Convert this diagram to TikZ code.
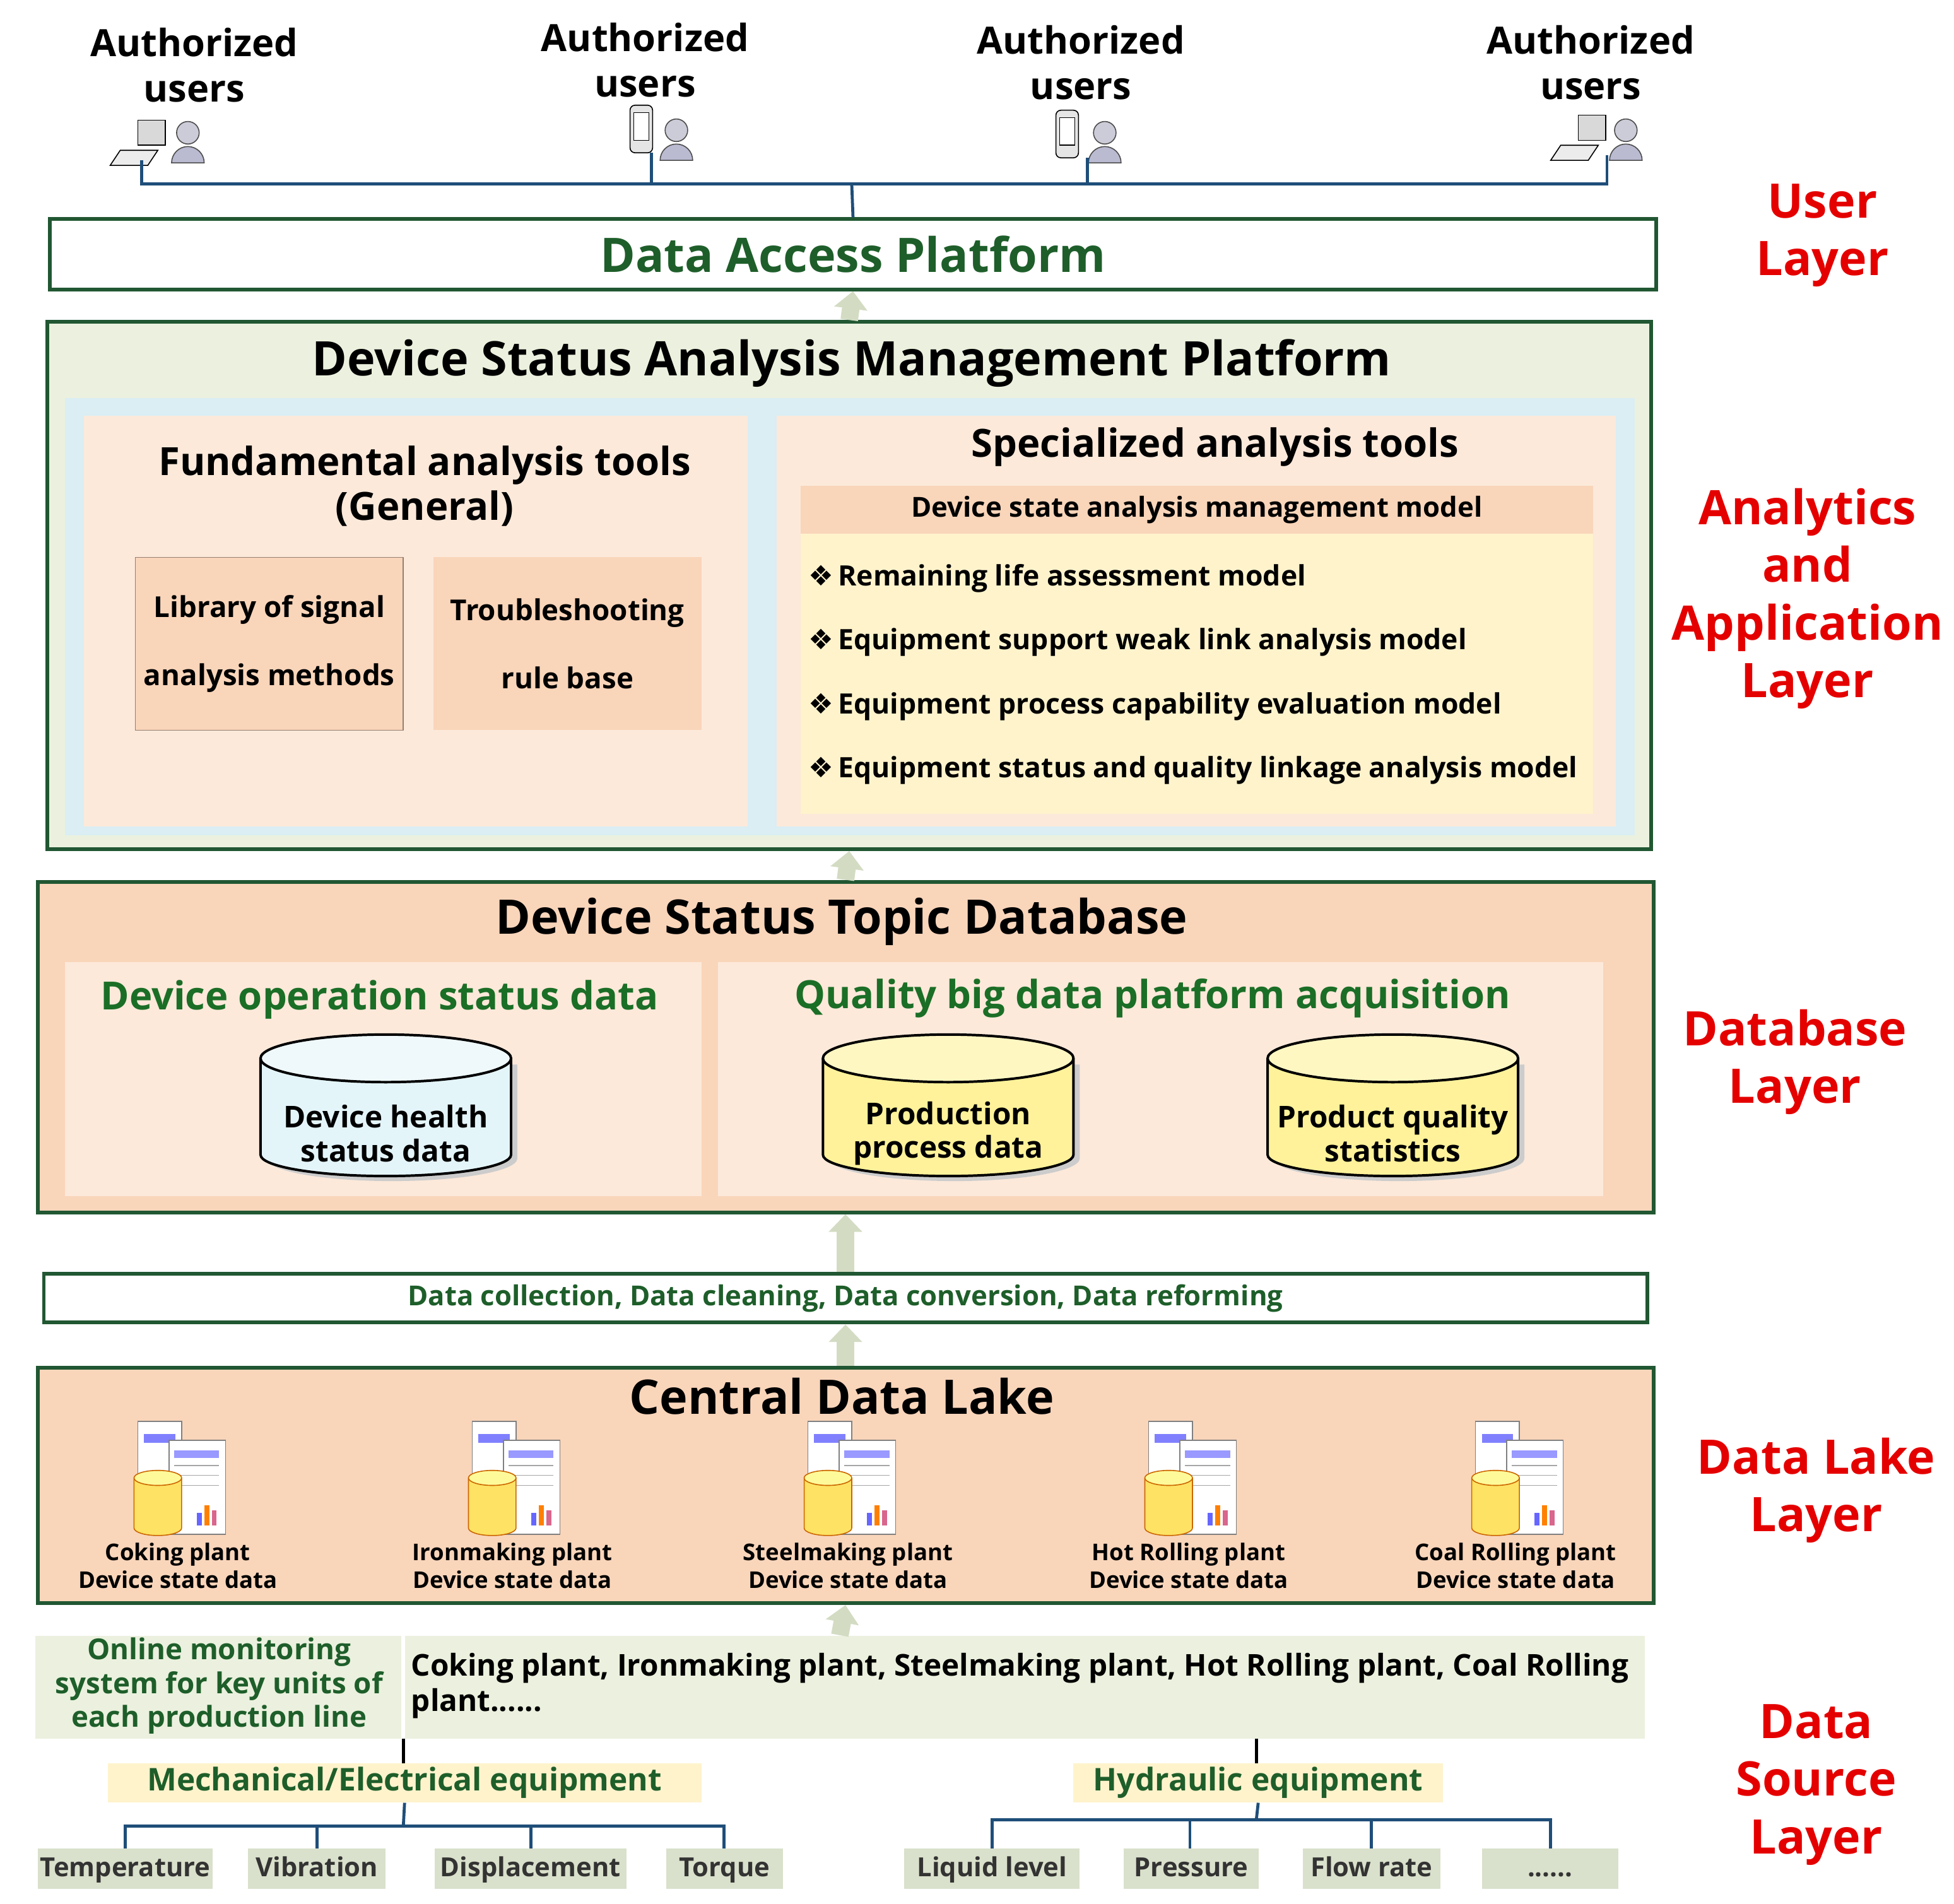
\documentclass[tikz,border=0pt]{standalone}
\usepackage{fontspec}
\setmainfont{Open Sans}
\newfontfamily\symf{DejaVu Sans}
\usetikzlibrary{arrows.meta}
\definecolor{dg}{HTML}{1E5E2A}
\definecolor{bdr}{HTML}{215732}
\definecolor{lgreen}{HTML}{EBF1DE}
\definecolor{lblue}{HTML}{DAEEF3}
\definecolor{peach}{HTML}{F9D5BA}
\definecolor{lpeach}{HTML}{FCE9DA}
\definecolor{lyel}{HTML}{FFF3CC}
\definecolor{item}{HTML}{D9E0CB}
\definecolor{navy}{HTML}{1F4E79}
\definecolor{arr}{HTML}{D3DCC3}
\definecolor{cyl}{HTML}{FFF29A}
\definecolor{cylb}{HTML}{E4F5FA}
\tikzset{
 bx/.style={draw=bdr,line width=1.5pt,inner sep=0pt},
 pl/.style={inner sep=0pt},
 t/.style={font=\bfseries,inner sep=0pt,align=center},
 red/.style={t,text=red!90!black,font=\bfseries\fontsize{19}{23}\selectfont},
 up/.style={draw=arr,line width=7pt,-{Triangle[width=13pt,length=7pt]},shorten >=0pt},
 conn/.style={draw=navy,line width=1.2pt},
 itm/.style={pl,fill=item},
}
\newcommand\rb[6]{\node[#6,minimum width={(#4-#2)*0.5pt},minimum height={(#5-#3)*0.5pt}] (#1) at ({(#2+#4)/2},{(#3+#5)/2}) {};}
\newcommand\lakeicon[2]{%
 \begin{scope}[shift={(#1,#2)}]
 \draw[gray,fill=white] (-35,-5) rectangle (0,60);
 \fill[blue!50] (-30,5) rectangle (-5,12);
 \draw[gray,fill=white] (-10,10) rectangle (35,85);
 \fill[blue!40] (-6,18) rectangle (30,24);
 \foreach \yy in {30,38,46} \draw[gray!70] (-6,\yy) -- (30,\yy);
 \fill[blue!60] (12,68) rectangle (16,78); \fill[orange] (18,62) rectangle (22,78); \fill[purple!60] (24,66) rectangle (28,78);
 \draw[orange!80!black,fill=yellow!70!orange!60] (-38,40) -- (-38,80) arc[start angle=180,end angle=0,x radius=19,y radius=6] -- (0,40);
 \draw[orange!80!black,fill=yellow!40] (-19,40) ellipse[x radius=19,y radius=6];
 \end{scope}}
\newcommand\person[2]{\begin{scope}[shift={(#1,#2)}]
 \draw[gray!60!black,fill=blue!20!gray!45] (-13,22) arc[start angle=180,end angle=360,radius=13] -- cycle;
 \draw[gray!60!black,fill=blue!15!gray!35] (0,-2) circle[radius=9];
 \end{scope}}
\newcommand\pc[2]{\begin{scope}[shift={(#1,#2)}]
 \draw[black,fill=gray!30] (-8,-16) rectangle (14,4);
 \draw[black,fill=gray!15] (-22,8) -- (8,8) -- (0,20) -- (-30,20) -- cycle;
 \end{scope}}
\newcommand\phone[2]{\begin{scope}[shift={(#1,#2)}]
 \draw[black,fill=gray!20,rounded corners=2] (-9,-20) rectangle (9,18);
 \draw[black,fill=white] (-6,-14) rectangle (6,8);
 \end{scope}}
\begin{document}
\begin{tikzpicture}[x=0.5pt,y=-0.5pt]
\useasboundingbox (0,0) rectangle (1560,1520);
\fill[white] (0,0) rectangle (1560,1520);
% users
\foreach \n/\x/\y in {u1/155/52,u2/515/48,u3/863/50,u4/1270/50}
 \node[t,font=\bfseries\fontsize{15}{18}\selectfont] (\n) at (\x,\y) {Authorized\\users};
\pc{118}{112}\person{150}{108}
\phone{512}{104}\person{540}{106}
\phone{852}{108}\person{882}{108}
\pc{1268}{108}\person{1298}{106}
\coordinate (c1) at (113,128);\coordinate (c2) at (520,122);\coordinate (c3) at (868,126);\coordinate (c4) at (1283,124);
\coordinate (h) at (680,147);
\draw[conn] (c1) -- (113,147) -- (1283,147) -- (c4);
\draw[conn] (c2) -- (520,147); \draw[conn] (c3) -- (868,147);
% data access
\rb{dap}{40}{175}{1322}{231}{bx,fill=white}
\draw[conn] (h) -- (dap.north);
\node[t,text=dg,font=\bfseries\fontsize{19}{24}\selectfont] at (dap) {Data Access Platform};
% DSAMP
\rb{dsa}{38}{257}{1318}{678}{bx,fill=lgreen}
\draw[up] (dsa.north) -- (dap.south);
\node[t,font=\bfseries\fontsize{19}{24}\selectfont] at (680,290) {Device Status Analysis Management Platform};
\rb{inb}{52}{318}{1305}{667}{pl,fill=lblue}
\rb{lp}{67}{332}{597}{660}{pl,fill=lpeach}
\node[t,font=\bfseries\fontsize{15.5}{18}\selectfont] at (339,388) {Fundamental analysis tools\\(General)};
\rb{lib}{108}{445}{322}{583}{pl,fill=peach,draw=peach!60!black}
\rb{tro}{346}{445}{560}{583}{pl,fill=peach}
\node[t,font=\bfseries\fontsize{11.5}{27}\selectfont] at (lib) {Library of signal\\analysis methods};
\node[t,font=\bfseries\fontsize{11.5}{27}\selectfont] at (tro) {Troubleshooting\\rule base};
\rb{rp}{620}{332}{1290}{660}{pl,fill=lpeach}
\node[t,font=\bfseries\fontsize{15.5}{19}\selectfont] at (970,357) {Specialized analysis tools};
\rb{hd}{639}{388}{1272}{426}{pl,fill=peach}
\node[t,font=\bfseries\fontsize{11}{14}\selectfont] at (hd) {Device state analysis management model};
\rb{yb}{639}{426}{1272}{650}{pl,fill=lyel}
\foreach \yy/\s in {462/Remaining life assessment model,513/Equipment support weak link analysis model,564/Equipment process capability evaluation model,615/Equipment status and quality linkage analysis model}
 \node[t,anchor=west,font=\bfseries\fontsize{11.2}{14}\selectfont] at (645,\yy) {{\symf\char"2756}\,\s};
% Database
\rb{db}{30}{704}{1320}{968}{bx,fill=peach}
\draw[up] (db.north) -- (dsa.south);
\node[t,font=\bfseries\fontsize{19}{24}\selectfont] at (672,736) {Device Status Topic Database};
\rb{dl}{52}{768}{560}{955}{pl,fill=lpeach}
\rb{dr}{573}{768}{1280}{955}{pl,fill=lpeach}
\node[t,text=dg!90!green,font=\bfseries\fontsize{15.5}{19}\selectfont] at (303,798) {Device operation status data};
\node[t,text=dg!90!green,font=\bfseries\fontsize{15.5}{19}\selectfont] at (920,797) {Quality big data platform acquisition};
\foreach \n/\cx/\fc/\s in {cy1/308/cylb/{Device health\\status data},cy2/757/cyl/{Production\\process data},cy3/1112/cyl/{Product quality\\statistics}}{
 \fill[gray!40] (\cx-95,850) -- (\cx-95,925) arc[start angle=180,end angle=0,x radius=100,y radius=18] -- (\cx+105,850) -- cycle;
 \draw[black,line width=1pt,fill=\fc] (\cx-100,845) -- (\cx-100,922) arc[start angle=180,end angle=0,x radius=100,y radius=17] -- (\cx+100,845);
 \draw[black,line width=1pt,fill=\fc!60!white] (\cx,845) ellipse[x radius=100,y radius=19];
 \node[t,font=\bfseries\fontsize{12}{13.5}\selectfont] (\n) at (\cx,905) {\s};
}
% data collection
\rb{dc}{35}{1017}{1315}{1056}{bx,fill=white}
\draw[up] (dc.north) -- (db.south);
\node[t,text=dg,font=\bfseries\fontsize{11}{14}\selectfont] at (dc) {Data collection, Data cleaning, Data conversion, Data reforming};
% Data lake
\rb{lk}{30}{1092}{1320}{1280}{bx,fill=peach}
\draw[up] (lk.north) -- (dc.south);
\node[t,font=\bfseries\fontsize{19}{24}\selectfont] at (672,1115) {Central Data Lake};
\foreach \n/\x/\s in {l1/145/Coking plant,l2/412/Ironmaking plant,l3/680/Steelmaking plant,l4/952/Hot Rolling plant,l5/1213/Coal Rolling plant}{
 \lakeicon{\x}{1140}
 \node[t,font=\bfseries\fontsize{9.2}{11}\selectfont] (\n) at (\x-3,1250) {\s\\Device state data};
}
% source
\rb{src}{28}{1306}{1313}{1388}{pl,fill=lgreen}
\draw[up] (src.north) -- (lk.south);
\draw[white,line width=1.5pt] (322,1306) -- (322,1388);
\node[t,text=dg,font=\bfseries\fontsize{11.5}{13.5}\selectfont] at (175,1346) {Online monitoring\\system for key units of\\each production line};
\node[t,anchor=west,align=left,font=\bfseries\fontsize{12}{14}\selectfont] at (328,1346) {Coking plant, Ironmaking plant, Steelmaking plant, Hot Rolling plant, Coal Rolling\\plant......};
\rb{me}{86}{1408}{560}{1439}{pl,fill=lyel}
\rb{hy}{857}{1408}{1152}{1439}{pl,fill=lyel}
\node[t,text=dg,font=\bfseries\fontsize{12.5}{15}\selectfont] at (me) {Mechanical/Electrical equipment};
\node[t,text=dg,font=\bfseries\fontsize{12.5}{15}\selectfont] at (hy) {Hydraulic equipment};
\draw[black,line width=1.2pt] (322,1388) -- (322,1408);
\draw[black,line width=1.2pt] (1003,1388) -- (1003,1408);
\foreach \n/\a/\b/\s in {i1/30/170/{Temperature},i2/198/308/{Vibration},i3/347/500/{Displacement},i4/532/625/{Torque},i5/722/862/{Liquid level},i6/897/1005/{Pressure},i7/1040/1150/{Flow rate},i8/1183/1292/{{......}}}{
 \rb{\n}{\a}{1476}{\b}{1508}{itm}
 \node[t,text=black!80,font=\bfseries\fontsize{10.5}{13}\selectfont,text height=1.6ex,text depth=0.4ex] at (\n) {\s};
}
\draw[conn] (me.south) -- (322,1458);
\draw[conn] (100,1476) -- (100,1458) -- (578,1458) -- (578,1476);
\draw[conn] (253,1458) -- (253,1476); \draw[conn] (424,1458) -- (424,1476);
\draw[conn] (hy.south) -- (1003,1453);
\draw[conn] (792,1476) -- (792,1453) -- (1238,1453) -- (1238,1476);
\draw[conn] (950,1453) -- (950,1476); \draw[conn] (1095,1453) -- (1095,1476);
% layer labels
\node[red] at (1455,188) {User\\Layer};
\node[red] at (1443,478) {Analytics\\and\\Application\\Layer};
\node[red] at (1433,848) {Database\\Layer};
\node[red] at (1450,1190) {Data Lake\\Layer};
\node[red] at (1450,1425) {Data\\Source\\Layer};
\end{tikzpicture}
\end{document}
